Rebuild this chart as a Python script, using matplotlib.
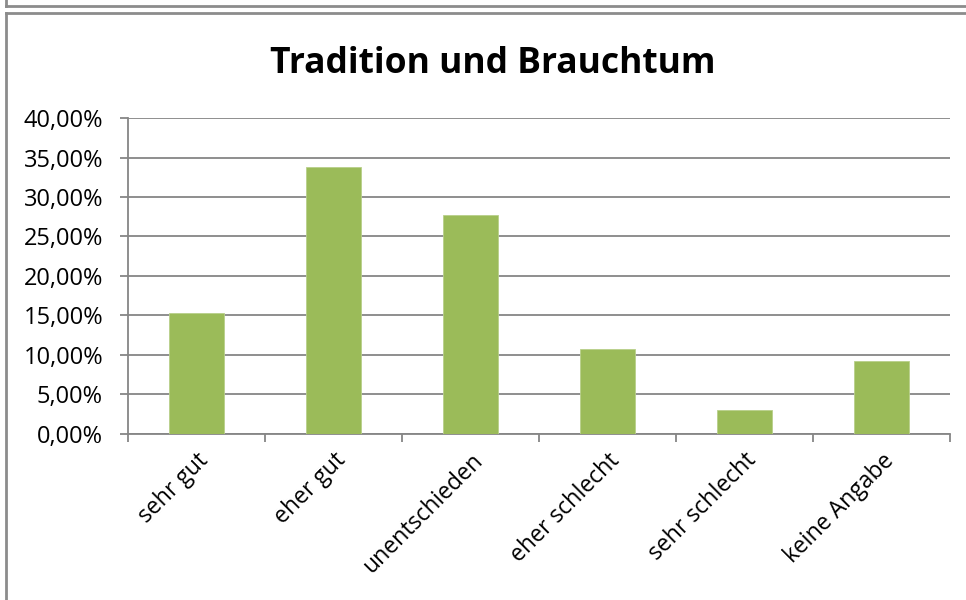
import matplotlib
matplotlib.use("Agg")
import matplotlib.pyplot as plt
from matplotlib.lines import Line2D
from matplotlib.ticker import FuncFormatter, MultipleLocator

categories = ["sehr gut", "eher gut", "unentschieden", "eher schlecht", "sehr schlecht", "keine Angabe"]
values = [0.153, 0.338, 0.277, 0.107, 0.030, 0.092]

title = "Tradition und Brauchtum"
bar_color = "#9BBB59"
grid_color = "#868686"

plt.rcParams["font.family"] = ["Open Sans", "DejaVu Sans"]

fig = plt.figure(figsize=(9.66, 6), dpi=100)
ax = fig.add_axes([0.1325, 0.2775, 0.851, 0.5255])

x = list(range(len(categories)))
ax.bar(x, values, width=0.4, color=bar_color, edgecolor="#B8D08A", linewidth=0.6, zorder=3)

ax.set_xlim(-0.5, len(categories) - 0.5)
ax.set_ylim(0, 0.40)
ax.yaxis.set_major_locator(MultipleLocator(0.05))
ax.yaxis.set_major_formatter(FuncFormatter(lambda v, p: f"{v*100:.2f}%".replace(".", ",")))
ax.grid(axis="y", color=grid_color, linewidth=1.3, zorder=0)

# category ticks sit between bars
ax.set_xticks([i - 0.5 for i in range(len(categories) + 1)])
ax.set_xticklabels([])
ax.set_xticks(x, minor=True)
ax.set_xticklabels(categories, minor=True, rotation=45, ha="right", rotation_mode="anchor", fontsize=16.5)
ax.tick_params(axis="x", which="minor", length=0, pad=11)
ax.tick_params(axis="x", which="major", length=6, width=1.3, color=grid_color)
ax.tick_params(axis="y", length=6, width=1.3, color=grid_color, labelsize=17, pad=12)

for s in ["top", "right"]:
    ax.spines[s].set_visible(False)
for s in ["left", "bottom"]:
    ax.spines[s].set_color(grid_color)
    ax.spines[s].set_linewidth(1.3)

fig.text(0.51, 0.893, title, ha="center", va="center", fontsize=25.5, fontweight="bold")

# chart frame (cut off at right/bottom) and bottom edge of the previous frame
frame = "#8C8C8C"
fig.add_artist(Line2D([0.0065, 1.0], [0.979, 0.979], color=frame, linewidth=2))
fig.add_artist(Line2D([0.0065, 0.0065], [0.0, 0.979], color=frame, linewidth=2))
fig.add_artist(Line2D([0.0065, 1.0], [0.99, 0.99], color=frame, linewidth=2))
fig.add_artist(Line2D([0.0065, 0.0065], [0.99, 1.0], color=frame, linewidth=2))

fig.savefig("out.png", dpi=100)
